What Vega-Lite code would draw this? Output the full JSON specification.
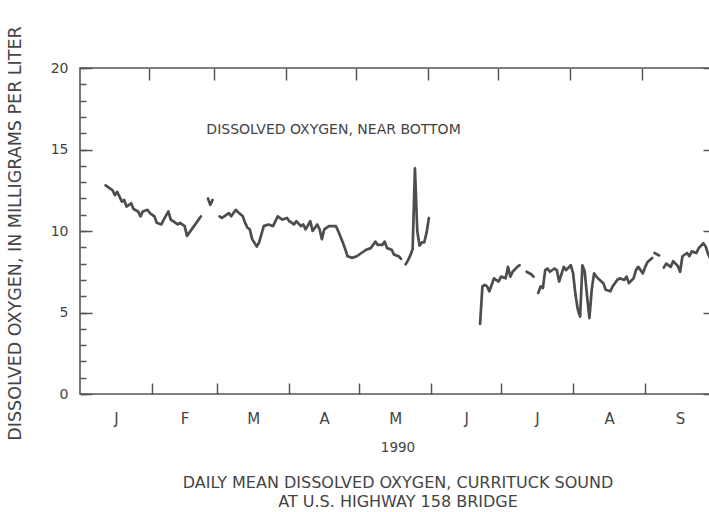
{
  "$schema": "https://vega.github.io/schema/vega-lite/v6.json",
  "width": 635,
  "height": 326,
  "autosize": {"type": "none"},
  "padding": {"left": 80, "top": 68, "right": -6, "bottom": 118},
  "background": "white",
  "config": {
    "view": {"stroke": "#555555", "strokeWidth": 1.6},
    "font": "DejaVu Sans",
    "axis": {
      "grid": false,
      "domain": false,
      "tickColor": "#555555",
      "tickWidth": 1.5,
      "labelFont": "DejaVu Sans",
      "titleFont": "DejaVu Sans",
      "labelColor": "#444444",
      "titleColor": "#444444",
      "titleFontWeight": "normal"
    }
  },
  "data": {
    "values": [
      {"date": "1990-01-12", "value": 12.8, "seg": 1},
      {"date": "1990-01-14", "value": 12.6, "seg": 1},
      {"date": "1990-01-15", "value": 12.5, "seg": 1},
      {"date": "1990-01-16", "value": 12.2, "seg": 1},
      {"date": "1990-01-17", "value": 12.4, "seg": 1},
      {"date": "1990-01-19", "value": 11.8, "seg": 1},
      {"date": "1990-01-20", "value": 11.9, "seg": 1},
      {"date": "1990-01-21", "value": 11.5, "seg": 1},
      {"date": "1990-01-23", "value": 11.7, "seg": 1},
      {"date": "1990-01-24", "value": 11.35, "seg": 1},
      {"date": "1990-01-26", "value": 11.2, "seg": 1},
      {"date": "1990-01-27", "value": 10.9, "seg": 1},
      {"date": "1990-01-28", "value": 11.2, "seg": 1},
      {"date": "1990-01-30", "value": 11.3, "seg": 1},
      {"date": "1990-01-31", "value": 11.1, "seg": 1},
      {"date": "1990-02-02", "value": 10.9, "seg": 1},
      {"date": "1990-02-03", "value": 10.5, "seg": 1},
      {"date": "1990-02-05", "value": 10.4, "seg": 1},
      {"date": "1990-02-06", "value": 10.7, "seg": 1},
      {"date": "1990-02-08", "value": 11.2, "seg": 1},
      {"date": "1990-02-09", "value": 10.7, "seg": 1},
      {"date": "1990-02-10", "value": 10.6, "seg": 1},
      {"date": "1990-02-12", "value": 10.4, "seg": 1},
      {"date": "1990-02-13", "value": 10.5, "seg": 1},
      {"date": "1990-02-15", "value": 10.3, "seg": 1},
      {"date": "1990-02-16", "value": 9.7, "seg": 1},
      {"date": "1990-02-17", "value": 9.9, "seg": 1},
      {"date": "1990-02-18", "value": 10.1, "seg": 1},
      {"date": "1990-02-20", "value": 10.5, "seg": 1},
      {"date": "1990-02-22", "value": 10.9, "seg": 1},
      {"date": "1990-02-25", "value": 12.0, "seg": 2},
      {"date": "1990-02-26", "value": 11.6, "seg": 2},
      {"date": "1990-02-27", "value": 11.9, "seg": 2},
      {"date": "1990-03-02", "value": 10.9, "seg": 3},
      {"date": "1990-03-03", "value": 10.8, "seg": 3},
      {"date": "1990-03-04", "value": 10.9, "seg": 3},
      {"date": "1990-03-06", "value": 11.1, "seg": 3},
      {"date": "1990-03-07", "value": 10.9, "seg": 3},
      {"date": "1990-03-09", "value": 11.3, "seg": 3},
      {"date": "1990-03-10", "value": 11.15, "seg": 3},
      {"date": "1990-03-12", "value": 10.9, "seg": 3},
      {"date": "1990-03-13", "value": 10.5, "seg": 3},
      {"date": "1990-03-14", "value": 10.2, "seg": 3},
      {"date": "1990-03-15", "value": 10.1, "seg": 3},
      {"date": "1990-03-16", "value": 9.5, "seg": 3},
      {"date": "1990-03-18", "value": 9.05, "seg": 3},
      {"date": "1990-03-19", "value": 9.3, "seg": 3},
      {"date": "1990-03-21", "value": 10.3, "seg": 3},
      {"date": "1990-03-23", "value": 10.4, "seg": 3},
      {"date": "1990-03-25", "value": 10.3, "seg": 3},
      {"date": "1990-03-27", "value": 10.9, "seg": 3},
      {"date": "1990-03-29", "value": 10.7, "seg": 3},
      {"date": "1990-03-31", "value": 10.8, "seg": 3},
      {"date": "1990-04-01", "value": 10.6, "seg": 3},
      {"date": "1990-04-03", "value": 10.4, "seg": 3},
      {"date": "1990-04-04", "value": 10.6, "seg": 3},
      {"date": "1990-04-06", "value": 10.3, "seg": 3},
      {"date": "1990-04-07", "value": 10.4, "seg": 3},
      {"date": "1990-04-08", "value": 10.1, "seg": 3},
      {"date": "1990-04-10", "value": 10.6, "seg": 3},
      {"date": "1990-04-11", "value": 10.0, "seg": 3},
      {"date": "1990-04-13", "value": 10.4, "seg": 3},
      {"date": "1990-04-14", "value": 10.1, "seg": 3},
      {"date": "1990-04-15", "value": 9.5, "seg": 3},
      {"date": "1990-04-16", "value": 10.1, "seg": 3},
      {"date": "1990-04-18", "value": 10.3, "seg": 3},
      {"date": "1990-04-21", "value": 10.3, "seg": 3},
      {"date": "1990-04-22", "value": 10.0, "seg": 3},
      {"date": "1990-04-24", "value": 9.3, "seg": 3},
      {"date": "1990-04-25", "value": 8.9, "seg": 3},
      {"date": "1990-04-26", "value": 8.45, "seg": 3},
      {"date": "1990-04-28", "value": 8.35, "seg": 3},
      {"date": "1990-04-30", "value": 8.45, "seg": 3},
      {"date": "1990-05-02", "value": 8.65, "seg": 3},
      {"date": "1990-05-04", "value": 8.85, "seg": 3},
      {"date": "1990-05-06", "value": 8.95, "seg": 3},
      {"date": "1990-05-08", "value": 9.35, "seg": 3},
      {"date": "1990-05-09", "value": 9.15, "seg": 3},
      {"date": "1990-05-11", "value": 9.15, "seg": 3},
      {"date": "1990-05-12", "value": 9.35, "seg": 3},
      {"date": "1990-05-13", "value": 8.95, "seg": 3},
      {"date": "1990-05-15", "value": 8.85, "seg": 3},
      {"date": "1990-05-16", "value": 8.55, "seg": 3},
      {"date": "1990-05-18", "value": 8.45, "seg": 3},
      {"date": "1990-05-19", "value": 8.3, "seg": 3},
      {"date": "1990-05-21", "value": 7.95, "seg": 4},
      {"date": "1990-05-22", "value": 8.2, "seg": 4},
      {"date": "1990-05-23", "value": 8.5, "seg": 4},
      {"date": "1990-05-24", "value": 8.9, "seg": 4},
      {"date": "1990-05-25", "value": 13.85, "seg": 4},
      {"date": "1990-05-26", "value": 10.0, "seg": 4},
      {"date": "1990-05-27", "value": 9.1, "seg": 4},
      {"date": "1990-05-28", "value": 9.3, "seg": 4},
      {"date": "1990-05-29", "value": 9.3, "seg": 4},
      {"date": "1990-05-30", "value": 9.9, "seg": 4},
      {"date": "1990-05-31", "value": 10.8, "seg": 4},
      {"date": "1990-06-22", "value": 4.3, "seg": 5},
      {"date": "1990-06-23", "value": 6.6, "seg": 5},
      {"date": "1990-06-24", "value": 6.7, "seg": 5},
      {"date": "1990-06-25", "value": 6.6, "seg": 5},
      {"date": "1990-06-26", "value": 6.3, "seg": 5},
      {"date": "1990-06-27", "value": 6.7, "seg": 5},
      {"date": "1990-06-28", "value": 7.1, "seg": 5},
      {"date": "1990-06-30", "value": 6.9, "seg": 5},
      {"date": "1990-07-01", "value": 7.2, "seg": 5},
      {"date": "1990-07-03", "value": 7.1, "seg": 5},
      {"date": "1990-07-04", "value": 7.8, "seg": 5},
      {"date": "1990-07-05", "value": 7.2, "seg": 5},
      {"date": "1990-07-06", "value": 7.5, "seg": 5},
      {"date": "1990-07-08", "value": 7.8, "seg": 5},
      {"date": "1990-07-09", "value": 7.9, "seg": 5},
      {"date": "1990-07-12", "value": 7.5, "seg": 6},
      {"date": "1990-07-14", "value": 7.35, "seg": 6},
      {"date": "1990-07-15", "value": 7.2, "seg": 6},
      {"date": "1990-07-17", "value": 6.2, "seg": 7},
      {"date": "1990-07-18", "value": 6.6, "seg": 7},
      {"date": "1990-07-19", "value": 6.5, "seg": 7},
      {"date": "1990-07-20", "value": 7.6, "seg": 7},
      {"date": "1990-07-21", "value": 7.7, "seg": 7},
      {"date": "1990-07-22", "value": 7.5, "seg": 7},
      {"date": "1990-07-24", "value": 7.7, "seg": 7},
      {"date": "1990-07-25", "value": 7.6, "seg": 7},
      {"date": "1990-07-26", "value": 6.9, "seg": 7},
      {"date": "1990-07-28", "value": 7.8, "seg": 7},
      {"date": "1990-07-29", "value": 7.6, "seg": 7},
      {"date": "1990-07-31", "value": 7.9, "seg": 7},
      {"date": "1990-08-01", "value": 7.4, "seg": 7},
      {"date": "1990-08-02", "value": 6.1, "seg": 7},
      {"date": "1990-08-03", "value": 5.2, "seg": 7},
      {"date": "1990-08-04", "value": 4.75, "seg": 7},
      {"date": "1990-08-05", "value": 7.9, "seg": 7},
      {"date": "1990-08-06", "value": 7.5, "seg": 7},
      {"date": "1990-08-07", "value": 6.0, "seg": 7},
      {"date": "1990-08-08", "value": 4.65, "seg": 7},
      {"date": "1990-08-09", "value": 6.4, "seg": 7},
      {"date": "1990-08-10", "value": 7.4, "seg": 7},
      {"date": "1990-08-11", "value": 7.2, "seg": 7},
      {"date": "1990-08-12", "value": 7.05, "seg": 7},
      {"date": "1990-08-14", "value": 6.8, "seg": 7},
      {"date": "1990-08-15", "value": 6.4, "seg": 7},
      {"date": "1990-08-17", "value": 6.3, "seg": 7},
      {"date": "1990-08-18", "value": 6.6, "seg": 7},
      {"date": "1990-08-20", "value": 7.0, "seg": 7},
      {"date": "1990-08-21", "value": 7.1, "seg": 7},
      {"date": "1990-08-23", "value": 7.0, "seg": 7},
      {"date": "1990-08-24", "value": 7.2, "seg": 7},
      {"date": "1990-08-25", "value": 6.8, "seg": 7},
      {"date": "1990-08-27", "value": 7.1, "seg": 7},
      {"date": "1990-08-28", "value": 7.6, "seg": 7},
      {"date": "1990-08-29", "value": 7.8, "seg": 7},
      {"date": "1990-08-31", "value": 7.4, "seg": 7},
      {"date": "1990-09-01", "value": 7.8, "seg": 7},
      {"date": "1990-09-02", "value": 8.1, "seg": 7},
      {"date": "1990-09-04", "value": 8.35, "seg": 7},
      {"date": "1990-09-05", "value": 8.65, "seg": 8},
      {"date": "1990-09-07", "value": 8.5, "seg": 8},
      {"date": "1990-09-09", "value": 7.75, "seg": 9},
      {"date": "1990-09-10", "value": 8.0, "seg": 9},
      {"date": "1990-09-12", "value": 7.8, "seg": 9},
      {"date": "1990-09-13", "value": 8.15, "seg": 9},
      {"date": "1990-09-15", "value": 7.85, "seg": 9},
      {"date": "1990-09-16", "value": 7.5, "seg": 9},
      {"date": "1990-09-17", "value": 8.45, "seg": 9},
      {"date": "1990-09-19", "value": 8.65, "seg": 9},
      {"date": "1990-09-20", "value": 8.45, "seg": 9},
      {"date": "1990-09-21", "value": 8.75, "seg": 9},
      {"date": "1990-09-23", "value": 8.65, "seg": 9},
      {"date": "1990-09-24", "value": 8.95, "seg": 9},
      {"date": "1990-09-26", "value": 9.25, "seg": 9},
      {"date": "1990-09-27", "value": 9.05, "seg": 9},
      {"date": "1990-09-28", "value": 8.6, "seg": 9},
      {"date": "1990-09-29", "value": 8.3, "seg": 9}
    ]
  },
  "resolve": {"axis": {"x": "independent", "y": "independent"}},
  "layer": [
    {
      "mark": {"type": "line", "color": "#4d4d4d", "strokeWidth": 2.7, "strokeJoin": "round", "strokeCap": "round"},
      "encoding": {
        "x": {
          "field": "date", "type": "temporal",
          "scale": {"type": "utc", "domain": [{"year": 1990, "month": 1, "date": 1, "utc": true}, {"year": 1990, "month": 10, "date": 1, "utc": true}]},
          "axis": {
            "orient": "bottom",
            "values": [
              {"year": 1990, "month": 2, "date": 1, "utc": true},
              {"year": 1990, "month": 3, "date": 1, "utc": true},
              {"year": 1990, "month": 4, "date": 1, "utc": true},
              {"year": 1990, "month": 5, "date": 1, "utc": true},
              {"year": 1990, "month": 6, "date": 1, "utc": true},
              {"year": 1990, "month": 7, "date": 1, "utc": true},
              {"year": 1990, "month": 8, "date": 1, "utc": true},
              {"year": 1990, "month": 9, "date": 1, "utc": true}
            ],
            "tickSize": -11,
            "labels": false,
            "title": ["DAILY MEAN DISSOLVED OXYGEN, CURRITUCK SOUND", "AT U.S. HIGHWAY 158 BRIDGE"],
            "titleFontSize": 16,
            "titleLineHeight": 19,
            "titleBaseline": "alphabetic",
            "titleY": 93.5,
            "titleAlign": "center"
          }
        },
        "y": {
          "field": "value", "type": "quantitative",
          "scale": {"domain": [0, 20], "nice": false},
          "axis": {
            "orient": "left",
            "values": [0, 5, 10, 15, 20],
            "tickSize": -12,
            "labelPadding": 24,
            "labelFontSize": 14,
            "title": "DISSOLVED OXYGEN, IN MILLIGRAMS PER LITER",
            "titleFontSize": 17.5,
            "titleX": -65,
            "titleY": 165,
            "titleAngle": -90,
            "titleBaseline": "middle",
            "titleAlign": "center"
          }
        },
        "detail": {"field": "seg"}
      }
    },
    {
      "mark": {"type": "line", "opacity": 0},
      "encoding": {
        "x": {
          "field": "date", "type": "temporal",
          "scale": {"type": "utc", "domain": [{"year": 1990, "month": 1, "date": 1, "utc": true}, {"year": 1990, "month": 10, "date": 1, "utc": true}]},
          "axis": {
            "orient": "bottom",
            "values": [
              {"year": 1990, "month": 1, "date": 16, "hours": 12, "utc": true},
              {"year": 1990, "month": 2, "date": 15, "utc": true},
              {"year": 1990, "month": 3, "date": 16, "hours": 12, "utc": true},
              {"year": 1990, "month": 4, "date": 16, "utc": true},
              {"year": 1990, "month": 5, "date": 16, "hours": 12, "utc": true},
              {"year": 1990, "month": 6, "date": 16, "utc": true},
              {"year": 1990, "month": 7, "date": 16, "hours": 12, "utc": true},
              {"year": 1990, "month": 8, "date": 16, "hours": 12, "utc": true},
              {"year": 1990, "month": 9, "date": 16, "utc": true}
            ],
            "ticks": false,
            "labelExpr": "substring(utcFormat(datum.value, '%B'), 0, 1)",
            "labelFontSize": 15,
            "labelBaseline": "middle",
            "labelPadding": 24,
            "labelFlush": false,
            "title": "1990",
            "titleFontSize": 13.5,
            "titleY": 53,
            "titleBaseline": "middle",
            "titleAlign": "center"
          }
        },
        "y": {
          "field": "value", "type": "quantitative",
          "scale": {"domain": [0, 20], "nice": false},
          "axis": {
            "orient": "left",
            "values": [0, 1, 2, 3, 4, 5, 6, 7, 8, 9, 10, 11, 12, 13, 14, 15, 16, 17, 18, 19, 20],
            "tickSize": -6,
            "labels": false,
            "title": null
          }
        },
        "detail": {"field": "seg"}
      }
    },
    {
      "mark": {"type": "line", "opacity": 0},
      "encoding": {
        "x": {
          "field": "date", "type": "temporal",
          "scale": {"type": "utc", "domain": [{"year": 1990, "month": 1, "date": 1, "utc": true}, {"year": 1990, "month": 10, "date": 1, "utc": true}]},
          "axis": {
            "orient": "top",
            "values": [
              {"year": 1990, "month": 2, "date": 1, "utc": true},
              {"year": 1990, "month": 3, "date": 1, "utc": true},
              {"year": 1990, "month": 4, "date": 1, "utc": true},
              {"year": 1990, "month": 5, "date": 1, "utc": true},
              {"year": 1990, "month": 6, "date": 1, "utc": true},
              {"year": 1990, "month": 7, "date": 1, "utc": true},
              {"year": 1990, "month": 8, "date": 1, "utc": true},
              {"year": 1990, "month": 9, "date": 1, "utc": true}
            ],
            "tickSize": -12,
            "tickOffset": -3.5,
            "labels": false,
            "title": null
          }
        },
        "y": {
          "field": "value", "type": "quantitative",
          "scale": {"domain": [0, 20], "nice": false},
          "axis": {
            "orient": "right",
            "values": [0, 5, 10, 15, 20],
            "tickSize": -12,
            "labels": false,
            "title": null
          }
        },
        "detail": {"field": "seg"}
      }
    },
    {
      "mark": {"type": "line", "opacity": 0},
      "encoding": {
        "x": {
          "field": "date", "type": "temporal",
          "scale": {"type": "utc", "domain": [{"year": 1990, "month": 1, "date": 1, "utc": true}, {"year": 1990, "month": 10, "date": 1, "utc": true}]},
          "axis": null
        },
        "y": {
          "field": "value", "type": "quantitative",
          "scale": {"domain": [0, 20], "nice": false},
          "axis": {
            "orient": "right",
            "values": [0, 1, 2, 3, 4, 5, 6, 7, 8, 9, 10, 11, 12, 13, 14, 15, 16, 17, 18, 19, 20],
            "tickSize": -6,
            "labels": false,
            "title": null
          }
        },
        "detail": {"field": "seg"}
      }
    },
    {
      "data": {"values": [{"date": "1990-04-20", "value": 16.2, "label": "DISSOLVED OXYGEN, NEAR BOTTOM"}]},
      "mark": {"type": "text", "font": "DejaVu Sans", "fontSize": 14, "color": "#444444", "align": "center", "baseline": "middle"},
      "encoding": {
        "x": {
          "field": "date", "type": "temporal",
          "scale": {"type": "utc", "domain": [{"year": 1990, "month": 1, "date": 1, "utc": true}, {"year": 1990, "month": 10, "date": 1, "utc": true}]},
          "axis": null
        },
        "y": {
          "field": "value", "type": "quantitative",
          "scale": {"domain": [0, 20], "nice": false},
          "axis": null
        },
        "text": {"field": "label"}
      }
    }
  ]
}
